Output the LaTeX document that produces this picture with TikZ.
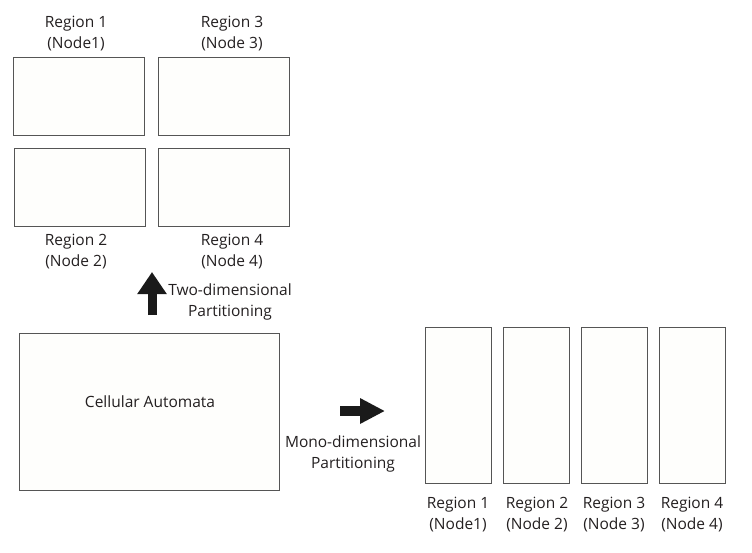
\documentclass[tikz,border=0pt]{standalone}
\usepackage{fontspec}
\setmainfont{Open Sans}
\usetikzlibrary{arrows.meta}
\definecolor{txt}{HTML}{231F20}
\definecolor{boxfill}{HTML}{FEFEFC}
\definecolor{boxline}{HTML}{555555}
\definecolor{arr}{HTML}{1A1A1A}
\tikzset{
  region/.style={draw=boxline, line width=1pt, fill=boxfill, inner sep=0pt},
  lbl/.style={text=txt, font=\fontsize{15.5pt}{21pt}\selectfont, align=center, inner sep=0pt}
}
\begin{document}
\begin{tikzpicture}[x=1pt,y=-1pt]
\useasboundingbox (0,0) rectangle (752,552);
% two-dimensional partition
\node[region, minimum width=131pt, minimum height=78pt] (r1) at (78.5,96) {};
\node[region, minimum width=131pt, minimum height=78pt] (r3) at (223.5,96) {};
\node[region, minimum width=131pt, minimum height=78pt] (r2) at (79.5,187) {};
\node[region, minimum width=131pt, minimum height=78pt] (r4) at (223.5,187) {};
\node[lbl] (l1) at (76,33.5) {Region 1\\(Node1)};
\node[lbl] (l3) at (232,33.5) {Region 3\\(Node 3)};
\node[lbl] (l2) at (76,252) {Region 2\\(Node 2)};
\node[lbl] (l4) at (232,252) {Region 4\\(Node 4)};
% cellular automata
\node[region, minimum width=260pt, minimum height=157pt] (ca) at (149,411.5) {};
\node[lbl] (catext) at (150,402) {Cellular Automata};
% up arrow
\coordinate (ua) at (152,315);
\coordinate (ub) at (152,272);
\draw[draw=arr, line width=9pt, -{Triangle[width=28pt,length=22pt]}] (ua) -- (ub);
\node[lbl] (twod) at (230,301.5) {Two-dimensional\\Partitioning};
% right arrow
\coordinate (ra) at (340,411);
\coordinate (rb) at (385,411);
\draw[draw=arr, line width=10pt, -{Triangle[width=24pt,length=25pt]}] (ra) -- (rb);
\node[lbl] (monod) at (353,454) {Mono-dimensional\\Partitioning};
% mono-dimensional partition
\node[region, minimum width=66pt, minimum height=156pt] (m1) at (458,405) {};
\node[region, minimum width=66pt, minimum height=156pt] (m2) at (536.5,405) {};
\node[region, minimum width=66pt, minimum height=156pt] (m3) at (614,405) {};
\node[region, minimum width=66pt, minimum height=156pt] (m4) at (692,405) {};
\node[lbl] (ml1) at (458,514.5) {Region 1\\(Node1)};
\node[lbl] (ml2) at (537,514.5) {Region 2\\(Node 2)};
\node[lbl] (ml3) at (614,514.5) {Region 3\\(Node 3)};
\node[lbl] (ml4) at (692,514.5) {Region 4\\(Node 4)};
\end{tikzpicture}
\end{document}
